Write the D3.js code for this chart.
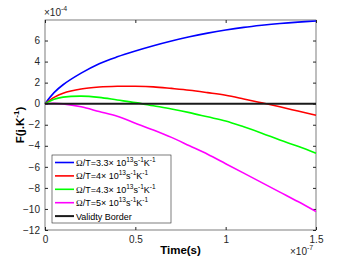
<!DOCTYPE html>
<meta charset="utf-8">
<style>
body { margin: 0; background: #fff; }
svg { font-family: "Liberation Sans", Arial, sans-serif; }
.tick text { fill: #262626; font-size: 10px; }
</style>
<body>
<svg width="350" height="263"></svg>
<script src="https://d3js.org/d3.v7.min.js"></script>
<script>
// time in units of 1e-7 s, F in units of 1e-4 J/K
var times = [0, 0.05, 0.1, 0.2, 0.3, 0.4, 0.5, 0.6, 0.7, 0.8, 0.9, 1.0, 1.1, 1.2, 1.3, 1.4, 1.5];
var blueVals = [0, 1.05, 1.8, 2.9, 3.8, 4.45, 5.0, 5.5, 5.95, 6.35, 6.7, 7.0, 7.25, 7.45, 7.62, 7.75, 7.85];
var redVals = [0, 0.6, 1.0, 1.4, 1.58, 1.65, 1.65, 1.6, 1.45, 1.28, 1.05, 0.8, 0.45, 0.08, -0.3, -0.7, -1.1];
var greenVals = [0, 0.42, 0.62, 0.72, 0.6, 0.35, 0.1, -0.2, -0.5, -0.85, -1.25, -1.65, -2.2, -2.8, -3.45, -4.05, -4.7];
var magentaVals = [0, 0.03, -0.02, -0.3, -0.75, -1.2, -1.85, -2.5, -3.2, -4.0, -4.8, -5.7, -6.6, -7.5, -8.4, -9.3, -10.25];
var borderVals = times.map(function() { return 0; });
var xTicks = [0, 0.5, 1, 1.5];
var yTicks = [-12, -10, -8, -6, -4, -2, 0, 2, 4, 6];
var seriesNames = ["3.3", "4", "4.3", "5"];
var seriesColors = ["#0000ff", "#ff0000", "#00ff00", "#ff00ff"];

var svg = d3.select("svg");
var margin = {left: 45, right: 34, top: 20, bottom: 33};
var width = 350 - margin.left - margin.right,
    height = 263 - margin.top - margin.bottom;

var x = d3.scaleLinear().domain([0, 1.5]).range([0, width]);
var y = d3.scaleLinear().domain([-12, 7.95]).range([height, 0]);

var g = svg.append("g").attr("transform", "translate(" + margin.left + "," + margin.top + ")");

function styleAxis(sel, noText) {
  sel.select(".domain").remove();
  sel.selectAll(".tick line").attr("stroke", "#262626");
  if (noText) sel.selectAll(".tick text").remove();
}

g.append("g").attr("transform", "translate(0," + height + ")")
  .call(d3.axisBottom(x).tickValues(xTicks).tickFormat(d3.format("")).tickSizeInner(-3).tickPadding(6))
  .call(styleAxis);
g.append("g")
  .call(d3.axisTop(x).tickValues(xTicks).tickSizeInner(-3))
  .call(styleAxis, true);
g.append("g")
  .call(d3.axisLeft(y).tickValues(yTicks).tickFormat(d3.format("")).tickSizeInner(-3).tickPadding(5))
  .call(styleAxis);
g.append("g").attr("transform", "translate(" + width + ",0)")
  .call(d3.axisRight(y).tickValues(yTicks).tickSizeInner(-3))
  .call(styleAxis, true);

g.append("rect").attr("width", width).attr("height", height)
  .attr("fill", "none").attr("stroke", "#262626").attr("stroke-width", 0.6);

var line = d3.line()
  .x(function(d, i) { return x(times[i]); })
  .y(function(d) { return y(d); })
  .curve(d3.curveCatmullRom.alpha(0.5));

var allSeries = [blueVals, redVals, greenVals, magentaVals];
allSeries.forEach(function(vals, i) {
  g.append("path").datum(vals).attr("d", line)
    .attr("fill", "none").attr("stroke", seriesColors[i]).attr("stroke-width", 1.6);
});
g.append("path").datum(borderVals).attr("d", line)
  .attr("fill", "none").attr("stroke", "#1a1a1a").attr("stroke-width", 2);

// exponent labels
function expLabel(xp, yp, e) {
  var t = svg.append("text").attr("x", xp).attr("y", yp)
    .attr("fill", "#262626").style("font-size", "10px");
  t.append("tspan").text("\u00d710");
  t.append("tspan").attr("dy", -5).style("font-size", "7px").text(e);
}
expLabel(44, 16, "-4");
expLabel(290, 255, "-7");

// axis titles
svg.append("text").attr("x", margin.left + width / 2).attr("y", 254)
  .attr("text-anchor", "middle").style("font-size", "11.5px").style("font-weight", "bold")
  .text("Time(s)");
var yl = svg.append("text")
  .attr("transform", "translate(24," + (margin.top + height / 2) + ") rotate(-90)")
  .attr("text-anchor", "middle").style("font-size", "11.5px").style("font-weight", "bold");
yl.append("tspan").text("F(j.K");
yl.append("tspan").attr("dy", -5).style("font-size", "8px").text("-1");
yl.append("tspan").attr("dy", 5).text(")");

// legend
var lg = svg.append("g").attr("transform", "translate(52,155)");
lg.append("rect").attr("width", 119).attr("height", 68)
  .attr("fill", "#fff").attr("stroke", "#262626").attr("stroke-width", 0.6);
var rowH = 13.4;
seriesNames.forEach(function(name, i) {
  var yy = 7.5 + i * rowH;
  lg.append("line").attr("x1", 3).attr("x2", 22).attr("y1", yy).attr("y2", yy)
    .attr("stroke", seriesColors[i]).attr("stroke-width", 1.6);
  var t = lg.append("text").attr("x", 24).attr("y", yy + 3.5)
    .style("font-size", "9px").attr("fill", "#000");
  t.append("tspan").style("font-family", "'Liberation Serif', serif").text("\u03a9");
  t.append("tspan").text("/T=" + name + "\u00d7 10");
  t.append("tspan").attr("dy", -4).style("font-size", "6.5px").text("13");
  t.append("tspan").attr("dy", 4).text("s");
  t.append("tspan").attr("dy", -4).style("font-size", "6.5px").text("-1");
  t.append("tspan").attr("dy", 4).text("K");
  t.append("tspan").attr("dy", -4).style("font-size", "6.5px").text("-1");
});
var by = 7.5 + 4 * rowH;
lg.append("line").attr("x1", 3).attr("x2", 22).attr("y1", by).attr("y2", by)
  .attr("stroke", "#1a1a1a").attr("stroke-width", 2);
lg.append("text").attr("x", 24).attr("y", by + 3.5).style("font-size", "9px")
  .text("Validty Border");
</script>
</body>
